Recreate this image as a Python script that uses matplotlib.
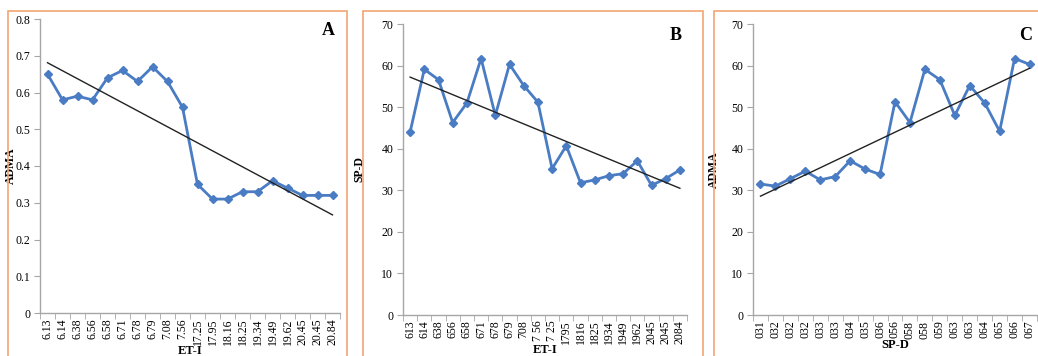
import numpy as np
import matplotlib
matplotlib.use("Agg")
import matplotlib.pyplot as plt
from matplotlib.patches import Rectangle

plt.rcParams['font.family'] = ['Liberation Serif', 'DejaVu Serif']

# ---------------- data ----------------
labels_a = ["6.13", "6.14", "6.38", "6.56", "6.58", "6.71", "6.78", "6.79", "7.08", "7.56",
            "17.25", "17.95", "18.16", "18.25", "19.34", "19.49", "19.62", "20.45", "20.45", "20.84"]
values_a = [0.65, 0.58, 0.59, 0.58, 0.64, 0.66, 0.63, 0.67, 0.63, 0.56,
            0.35, 0.31, 0.31, 0.33, 0.33, 0.36, 0.34, 0.32, 0.32, 0.32]

labels_b = ["613", "614", "638", "656", "658", "671", "678", "679", "708", "7 56",
            "7 25", "1795", "1816", "1825", "1934", "1949", "1962", "2045", "2045", "2084"]
values_b = [44.0, 59.1, 56.6, 46.3, 51.0, 61.7, 48.0, 60.3, 55.2, 51.2,
            35.2, 40.7, 31.8, 32.5, 33.5, 34.0, 37.1, 31.2, 32.8, 34.9]

labels_c = ["031", "032", "032", "032", "033", "033", "034", "035", "036", "056",
            "058", "058", "059", "063", "063", "064", "065", "066", "067"]
values_c = [31.5, 31.0, 32.8, 34.6, 32.5, 33.3, 37.1, 35.1, 33.8, 51.3,
            46.3, 59.1, 56.6, 48.0, 55.2, 51.0, 44.2, 61.7, 60.3]

panels = [
    dict(labels=labels_a, values=values_a, ylabel="ADMA", xlabel="ET-I", letter="A",
         ylim=(0, 0.8), yticks=[0, 0.1, 0.2, 0.3, 0.4, 0.5, 0.6, 0.7, 0.8],
         yfmt=lambda v: "0" if v == 0 else f"{v:.1f}",
         pos=[40, 19, 340, 313], ylab_x=-0.077),
    dict(labels=labels_b, values=values_b, ylabel="SP-D", xlabel="ET-I", letter="B",
         ylim=(0, 70), yticks=list(range(0, 71, 10)), yfmt=lambda v: f"{v:d}",
         pos=[403, 24, 687, 315], ylab_x=-0.134),
    dict(labels=labels_c, values=values_c, ylabel="ADMA", xlabel="SP-D", letter="C",
         ylim=(0, 70), yticks=list(range(0, 71, 10)), yfmt=lambda v: f"{v:d}",
         pos=[753, 24, 1037, 315], ylab_x=-0.118),
]

W, H = 1038, 356
fig = plt.figure(figsize=(W / 100, H / 100), dpi=100)

# orange panel frames
frames = [(8, 11, 347), (363, 11, 703), (714, 11, 1045)]
for x0, y0, x1 in frames:
    rect = Rectangle((x0 / W, -0.1), (x1 - x0) / W, (H - y0) / H + 0.1,
                     transform=fig.transFigure, fill=False, edgecolor="#F2A673",
                     linewidth=1.2, clip_on=False)
    fig.add_artist(rect)

blue = "#4A7CC4"
grey = "#A6A6A6"

for p in panels:
    l, t, r, b = p["pos"]
    ax = fig.add_axes([l / W, (H - b) / H, (r - l) / W, (b - t) / H])
    n = len(p["values"])
    x = np.arange(n)
    ax.plot(x, p["values"], color=blue, linewidth=2, marker="D", markersize=4.5,
            markerfacecolor=blue, markeredgecolor=blue, zorder=3)
    k, c = np.polyfit(x, p["values"], 1)
    ax.plot([x[0], x[-1]], [k * x[0] + c, k * x[-1] + c], color="#222222",
            linewidth=1.0, zorder=4)
    ax.set_xlim(-0.5, n - 0.5)
    ax.set_ylim(*p["ylim"])
    ax.set_yticks(p["yticks"])
    ax.set_yticklabels([p["yfmt"](v) for v in p["yticks"]], fontsize=8.5)
    ax.set_xticks(x)
    ax.set_xticklabels(p["labels"], rotation=90, fontsize=8.5)
    ax.set_xticks(np.arange(-0.5, n, 1), minor=True)
    ax.tick_params(axis="x", which="major", length=0, pad=4)
    ax.tick_params(axis="x", which="minor", length=4, color=grey, direction="out")
    ax.tick_params(axis="y", length=4, color=grey, direction="out", pad=3)
    for s in ["top", "right"]:
        ax.spines[s].set_visible(False)
    for s in ["left", "bottom"]:
        ax.spines[s].set_color(grey)
        ax.spines[s].set_linewidth(1.0)
    ax.set_ylabel(p["ylabel"], fontsize=8.5, fontweight="bold")
    ax.yaxis.set_label_coords(p["ylab_x"], 0.5)
    ax.set_xlabel(p["xlabel"], fontsize=9, fontweight="bold", labelpad=0)
    ax.text(0.96, 0.96, p["letter"], transform=ax.transAxes, fontsize=13,
            fontweight="bold", ha="center", va="center")

fig.savefig("out.png", dpi=100)
